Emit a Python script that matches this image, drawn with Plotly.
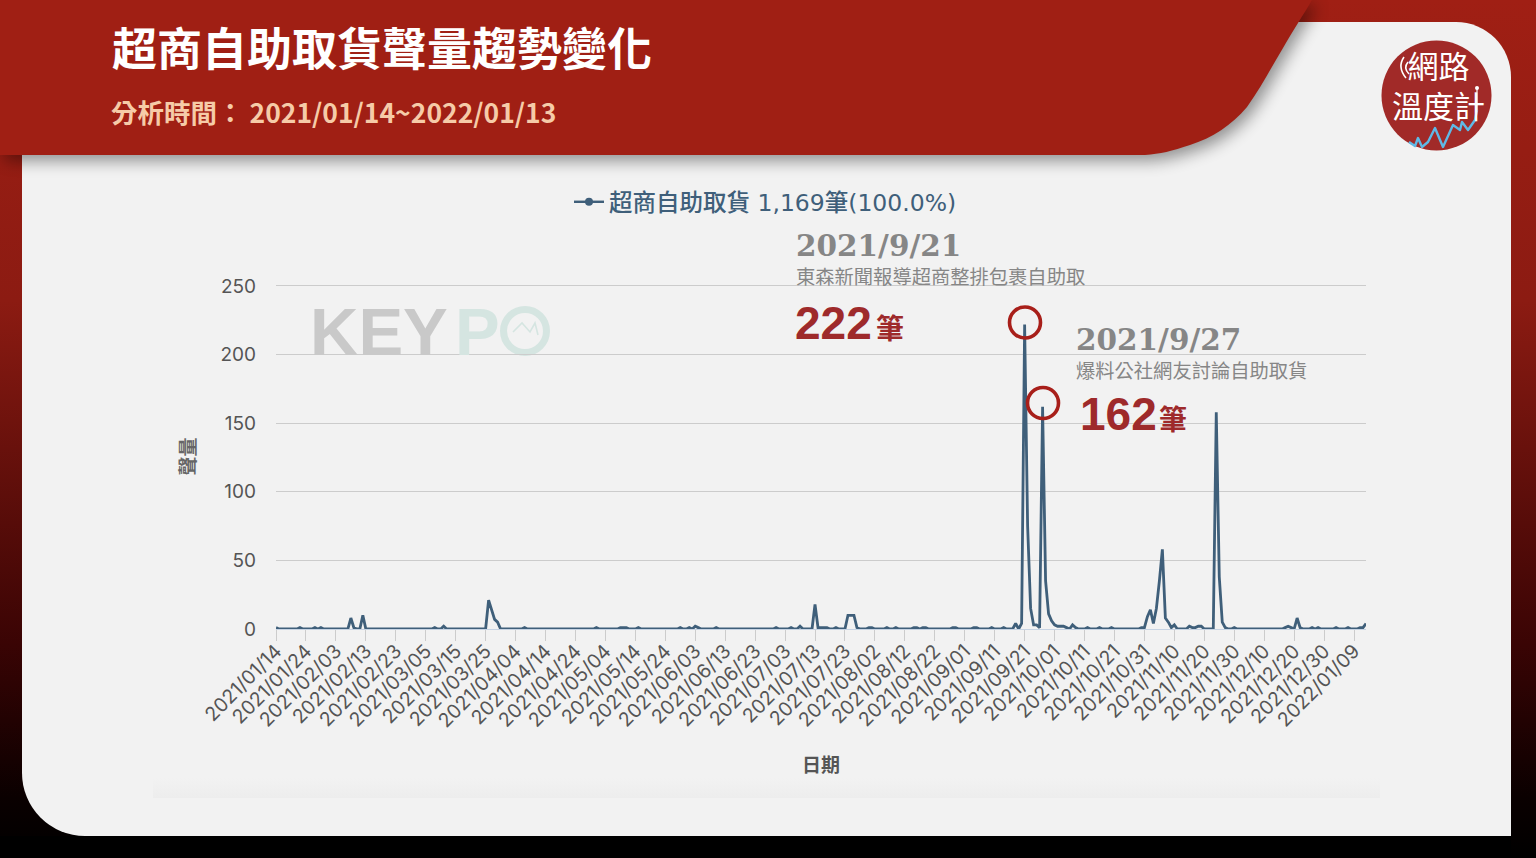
"""
Recreation of the KEYPO convenience-store self pickup volume trend card.
Frame, card and banner sit in one SVG background; everything else is Plotly.
"""

import base64

import pandas as pd
import plotly.graph_objects as go

W, H = 1536, 858

START_DATE = "2021-01-14"
SERIES_NAME = "超商自助取貨 1,169筆(100.0%)"
TITLE = "超商自助取貨聲量趨勢變化"
SUBTITLE = "分析時間： 2021/01/14~2022/01/13"
Y_TICKS = [0, 50, 100, 150, 200, 250]

# one row per ten days
VOLUME = [
    1, 0, 0, 0, 0, 0, 0, 0, 1, 0,
    0, 0, 0, 1, 0, 1, 0, 0, 0, 0,
    0, 0, 0, 0, 0, 8, 1, 0, 0, 10,
    0, 0, 0, 0, 0, 0, 0, 0, 0, 0,
    0, 0, 0, 0, 0, 0, 0, 0, 0, 0,
    0, 0, 0, 1, 0, 0, 2, 0, 0, 0,
    0, 0, 0, 0, 0, 0, 0, 0, 0, 0,
    0, 21, 13, 7, 5, 0, 0, 0, 0, 0,
    0, 0, 0, 1, 0, 0, 0, 0, 0, 0,
    0, 0, 0, 0, 0, 0, 0, 0, 0, 0,
    0, 0, 0, 0, 0, 0, 0, 1, 0, 0,
    0, 0, 0, 0, 0, 1, 1, 1, 0, 0,
    0, 1, 0, 0, 0, 0, 0, 0, 0, 0,
    0, 0, 0, 0, 0, 1, 0, 0, 1, 0,
    2, 1, 0, 0, 0, 0, 0, 1, 0, 0,
    0, 0, 0, 0, 0, 0, 0, 0, 0, 0,
    0, 0, 0, 0, 0, 0, 0, 1, 0, 0,
    0, 0, 1, 0, 0, 2, 0, 0, 0, 0,
    18, 1, 1, 1, 1, 0, 0, 1, 0, 0,
    0, 10, 10, 10, 1, 0, 0, 0, 1, 1,
    0, 0, 0, 0, 1, 0, 0, 1, 0, 0,
    0, 0, 0, 1, 1, 0, 1, 1, 0, 0,
    0, 0, 0, 0, 0, 0, 1, 1, 0, 0,
    0, 0, 0, 1, 1, 0, 0, 0, 0, 1,
    0, 0, 0, 1, 0, 0, 0, 4, 0, 4,
    222, 75, 15, 3, 3, 1, 162, 35, 11, 6,
    3, 2, 2, 2, 1, 0, 3, 1, 0, 0,
    0, 1, 0, 0, 0, 1, 0, 0, 0, 1,
    0, 0, 0, 0, 0, 0, 0, 0, 0, 1,
    1, 9, 14, 4, 15, 35, 58, 8, 5, 1,
    3, 0, 0, 0, 0, 2, 1, 1, 2, 2,
    0, 0, 0, 0, 158, 38, 5, 1, 0, 0,
    1, 0, 0, 0, 0, 0, 0, 0, 0, 0,
    0, 0, 0, 0, 0, 0, 0, 1, 2, 1,
    0, 8, 1, 0, 0, 0, 1, 0, 1, 0,
    0, 0, 0, 0, 1, 0, 0, 0, 1, 0,
    0, 0, 1, 1, 4,
]

DATES = pd.date_range(START_DATE, periods=len(VOLUME), freq="D")
X_TICKS = DATES[::10]


def fx(px):
    return px / W


def fy(py):
    return 1 - py / H


BANNER = (
    "M0 0 H1312 C1304 14 1292 32 1283 48 C1272 66 1262 86 1247 107 "
    "C1232 125 1212 138 1190 145 C1172 151 1160 154 1145 155 H0 Z"
)
CARD = "M22 22 H1456 A55 55 0 0 1 1511 77 V836 H85 A63 63 0 0 1 22 773 Z"
SPARK = (
    "M1409 142 L1415 146 L1418 138 L1422 147 L1428 142 L1435 128 L1443 147 "
    "L1453 125 L1460 130 L1462 122 L1468 130 L1475 120 L1477 110"
)

svg = f"""<svg xmlns="http://www.w3.org/2000/svg" width="{W}" height="{H}" viewBox="0 0 {W} {H}">
<defs>
<linearGradient id="frame" x1="0" y1="0" x2="0" y2="1">
<stop offset="0" stop-color="#a01f14"/><stop offset="0.35" stop-color="#8c1b12"/>
<stop offset="0.75" stop-color="#3a0404"/><stop offset="0.93" stop-color="#0a0000"/><stop offset="1" stop-color="#000"/>
</linearGradient>
<linearGradient id="band" x1="0" y1="0" x2="0" y2="1">
<stop offset="0" stop-color="#f2f2f2"/><stop offset="1" stop-color="#ededed"/>
</linearGradient>
<filter id="blur" x="-5%" y="-20%" width="110%" height="140%"><feGaussianBlur stdDeviation="8"/></filter>
</defs>
<rect width="{W}" height="{H}" fill="url(#frame)"/>
<rect y="836" width="{W - 25}" height="22" fill="#000"/>
<path d="{CARD}" fill="#f2f2f2"/>
<rect x="153" y="778" width="1227" height="20" fill="url(#band)"/>
<path d="{BANNER}" transform="translate(5 6)" fill="#000" opacity="0.4" filter="url(#blur)"/>
<path d="{BANNER}" fill="#a01f14"/>
<circle cx="1436.5" cy="95.5" r="55" fill="#a12a28"/>
<path d="{SPARK}" fill="none" stroke="#5fb9e6" stroke-width="2.4" stroke-linejoin="round"/>
<path d="M1477 110 V89" fill="none" stroke="#ffffff" stroke-width="1.2"/>
<circle cx="1477" cy="88" r="2" fill="#ffffff"/>
<path d="M1404 57 Q1397 67 1406 78 M1408 62 Q1403 68 1409 74" fill="none" stroke="#ffffff" stroke-width="1.6"/>
<circle cx="525" cy="331" r="21.5" fill="none" stroke="#d5e5e1" stroke-width="7"/>
<path d="M513 332 L522 323 L530 332 L535 323 L538 335" fill="none" stroke="#d5e5e1" stroke-width="1.6"/>
</svg>"""
BG_URI = "data:image/svg+xml;base64," + base64.b64encode(svg.encode("utf-8")).decode()

fig = go.Figure()

fig.add_trace(
    go.Scatter(
        x=DATES,
        y=VOLUME,
        mode="lines",
        line=dict(color="#3f5f7a", width=2.8),
        showlegend=False,
        cliponaxis=False,
    )
)
# legend-only entry, the chart line itself has no markers
fig.add_trace(
    go.Scatter(
        x=[None],
        y=[None],
        mode="lines+markers",
        name=SERIES_NAME,
        line=dict(color="#3f5f7a", width=2.4),
        marker=dict(color="#3f5f7a", size=8),
    )
)


def text(px, py, s, size, color, family="Noto Sans CJK TC", anchor="left", weight=None):
    if weight == "bold":
        s = f"<b>{s}</b>"
    fig.add_annotation(
        x=fx(px), y=fy(py), xref="paper", yref="paper", text=s, showarrow=False,
        xanchor=anchor, yanchor="middle", align=anchor,
        font=dict(size=size, color=color, family=family),
    )


CJK = "Noto Sans CJK TC"
SERIF = "DejaVu Serif"
SANS_B = "Liberation Sans"

text(110, 47, TITLE, 45, "#ffffff", CJK, weight="bold")
text(109, 111, SUBTITLE, 26.5, "#f6cba8", CJK, weight="bold")

text(308, 331, "KEY", 67, "#c9c9c9", SANS_B, weight="bold")
text(453, 331, "P", 67, "#d5e5e1", SANS_B, weight="bold")

text(794, 246, "2021/9/21", 29.5, "#868686", SERIF, weight="bold")
text(794, 276, "東森新聞報導超商整排包裹自助取", 19.3, "#868686", CJK)
text(793, 323, "222", 46, "#9e2a2b", SANS_B, weight="bold")
text(874, 327, "筆", 28, "#9e2a2b", CJK, weight="bold")

text(1074, 339, "2021/9/27", 29.5, "#868686", SERIF, weight="bold")
text(1074, 370, "爆料公社網友討論自助取貨", 19.3, "#868686", CJK)
text(1078, 414, "162", 46, "#9e2a2b", SANS_B, weight="bold")
text(1157, 418, "筆", 28, "#9e2a2b", CJK, weight="bold")

text(1438, 84, "網路<br>溫度計", 31, "#ffffff", CJK, "center")

for cx, cy in [(1025, 322.5), (1043, 403)]:
    fig.add_shape(
        type="circle", xref="paper", yref="paper",
        x0=fx(cx - 15.5), x1=fx(cx + 15.5), y0=fy(cy + 15.5), y1=fy(cy - 15.5),
        line=dict(color="#a81f1a", width=3.6), fillcolor="rgba(0,0,0,0)",
    )

fig.update_layout(
    width=W,
    height=H,
    margin=dict(l=0, r=0, t=0, b=0, autoexpand=False),
    paper_bgcolor="#f2f2f2",
    plot_bgcolor="rgba(0,0,0,0)",
    font=dict(family="Inter, Noto Sans CJK TC", color="#555555"),
    images=[
        dict(
            source=BG_URI, xref="paper", yref="paper", x=0, y=1, sizex=1, sizey=1,
            xanchor="left", yanchor="top", sizing="stretch", layer="below",
        )
    ],
    legend=dict(
        x=fx(569), y=fy(202), xanchor="left", yanchor="middle", orientation="h",
        bgcolor="rgba(0,0,0,0)", itemwidth=30,
        font=dict(size=23.5, color="#3f5f7a", family="DejaVu Sans, Noto Sans CJK TC", weight=500),
    ),
    xaxis=dict(
        domain=[fx(276), fx(1366)],
        range=[DATES[0], DATES[-1]],
        type="date",
        automargin=False,
        tickmode="array",
        tickvals=list(X_TICKS),
        ticktext=[d.strftime("%Y/%m/%d") for d in X_TICKS],
        tickangle=-45,
        tickfont=dict(size=19.5, color="#555555"),
        ticks="outside",
        ticklen=11,
        tickcolor="#cccccc",
        tickwidth=1,
        ticklabelstandoff=-9,
        showline=True,
        linecolor="#c6d3e3",
        showgrid=False,
        zeroline=False,
        title=None,
    ),
    yaxis=dict(
        domain=[fy(629), fy(629 - 251 * 1.372)],
        range=[0, 251],
        automargin=False,
        tickmode="array",
        tickvals=Y_TICKS,
        tickfont=dict(size=19, color="#555555"),
        gridcolor="#cccccc",
        gridwidth=1,
        zeroline=False,
        showline=False,
        ticks="",
        ticklabelstandoff=19,
        title=None,
    ),
)

text(821, 763, "日期", 19, "#555555", CJK, "center", weight="bold")
fig.add_annotation(
    x=fx(185.5), y=fy(457), xref="paper", yref="paper", text="<b>聲量</b>", showarrow=False,
    textangle=-90, xanchor="center", yanchor="middle",
    font=dict(size=19, color="#666666", family=CJK),
)

fig.write_html(
    "out.html",
    config=dict(displayModeBar=False),
    post_script="document.body.style.margin='0';",
)
